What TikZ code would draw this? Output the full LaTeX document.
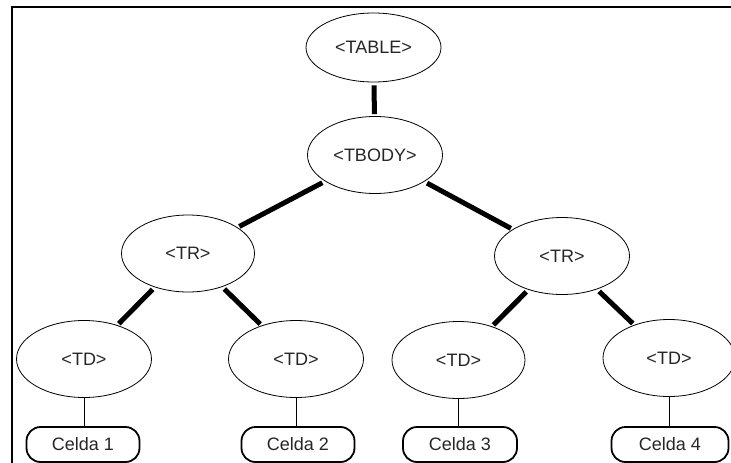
\documentclass[tikz,border=0pt]{standalone}
\usepackage{fontspec}
\setmainfont{Liberation Sans}
\usetikzlibrary{shapes.geometric}

\begin{document}
\begin{tikzpicture}[line join=round,x=1pt,y=-1pt,
    etiqueta/.style={draw,ellipse,line width=0.8pt,inner sep=0pt,minimum width=135pt,minimum height=77pt,font=\fontsize{18}{21}\selectfont,text=black!85},
    celda/.style={draw,rounded corners=14pt,line width=1.8pt,inner sep=0pt,minimum width=113pt,minimum height=35pt,font=\fontsize{18}{21}\selectfont,text=black!85},
    grueso/.style={line width=5pt,shorten <=3pt,shorten >=2pt},
    fino/.style={line width=1pt}]
                \useasboundingbox (0,0) rectangle (731,463);
                \draw [line width=2pt,line join=miter] (12,463)-- (12,7)-- (731,7);
                \node [etiqueta,minimum height=69pt] (table) at (373.5,47.5) {<TABLE>};
                \node [etiqueta] (tbody) at (375,155) {<TBODY>};
                \node [etiqueta,minimum width=133pt] (trIzq) at (188,253.5) {<TR>};
                \node [etiqueta] (trDer) at (562,256) {<TR>};
                \node [etiqueta] (td1) at (84,359) {<TD>};
                \node [etiqueta] (td2) at (296,359) {<TD>};
                \node [etiqueta,minimum width=133pt] (td3) at (458.5,360) {<TD>};
                \node [etiqueta,minimum width=132pt] (td4) at (669,358) {<TD>};
                \node [celda] (celda1) at (83,444.5) {Celda 1};
                \node [celda] (celda2) at (298,444.5) {Celda 2};
                \node [celda,minimum width=114pt] (celda3) at (460,444.5) {Celda 3};
                \node [celda,minimum width=117pt] (celda4) at (670,444.5) {Celda 4};
                \draw [grueso] (table)-- (tbody);
                \draw [grueso] (tbody)-- (trIzq);
                \draw [grueso] (tbody)-- (trDer);
                \draw [grueso] (trIzq)-- (td1);
                \draw [grueso] (trIzq)-- (td2);
                \draw [grueso] (trDer)-- (td3);
                \draw [grueso] (trDer)-- (td4);
                \draw [fino] (td1.south)-- (td1.south |- celda1.north);
                \draw [fino] (td2.south)-- (td2.south |- celda2.north);
                \draw [fino] (td3.south)-- (td3.south |- celda3.north);
                \draw [fino] (td4.south)-- (td4.south |- celda4.north);
\end{tikzpicture}
\end{document}
